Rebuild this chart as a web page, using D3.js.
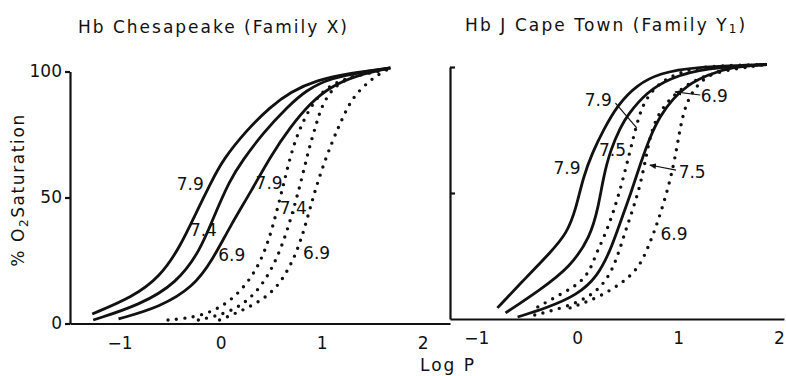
<!DOCTYPE html>
<html>
<head>
<meta charset="utf-8">
<script src="https://cdn.jsdelivr.net/npm/d3@7"></script>
<style>
  body { margin: 0; background: #fff; }
  text { font-family: "DejaVu Sans", sans-serif; fill: #111; }
  .curve { fill: none; stroke: #111; }
  .solid { stroke-width: 2.8; }
  .dots { stroke-width: 3.4; stroke-dasharray: 0 8.5; stroke-linecap: round; }
  .axis path, .axis line { stroke: #111; stroke-width: 2.2; }
  .axis text { font-size: 17px; font-family: "DejaVu Sans", sans-serif; fill: #111; }
  .lbl { font-size: 17px; }
  .ptr { stroke: #111; stroke-width: 1.2; fill: none; }
</style>
</head>
<body>
<svg id="chart" width="786" height="376"></svg>
<script>
// x ticks (log P) and y ticks (% O2 saturation)
const logPTicks = [-1, 0, 1, 2]
const satTicks = [0, 50, 100]
const satTicksRight = [50, 100]

// Hb Chesapeake (Family X): [log P, % saturation]
const chesSolid79 = [[-1.27,3.8],[-0.87,10.5],[-0.60,18.5],[-0.40,30.4],[-0.23,45.0],[-0.10,55.5],[0.02,64.9],[0.26,76.8],[0.49,85.9],[0.69,91.9],[0.95,96.6],[1.28,99.4],[1.68,101.4]]
const chesSolid74 = [[-1.26,1.4],[-0.80,7.3],[-0.43,16.1],[-0.20,29.2],[-0.08,41.1],[0.09,56.9],[0.22,64.9],[0.42,75.6],[0.66,85.9],[0.85,92.7],[1.09,97.4],[1.41,99.8],[1.68,101.4]]
const chesSolid69 = [[-1.01,1.8],[-0.60,6.5],[-0.27,14.5],[-0.08,25.2],[0.09,38.3],[0.31,53.0],[0.49,66.1],[0.69,78.0],[0.89,87.5],[1.08,93.8],[1.35,98.6],[1.68,101.4]]
const chesDots79 = [[-0.52,1.4],[-0.20,2.6],[0.09,8.1],[0.32,18.5],[0.46,30.4],[0.56,45.0],[0.64,58.1],[0.72,70.8],[0.82,80.8],[0.95,89.9],[1.11,95.4],[1.35,98.6],[1.55,99.8],[1.68,101.4]]
const chesDots74 = [[-0.22,1.4],[0.09,4.2],[0.32,10.5],[0.49,20.0],[0.62,31.9],[0.72,45.0],[0.80,56.9],[0.87,68.8],[0.95,79.6],[1.01,87.5],[1.15,95.4],[1.35,98.6],[1.68,101.4]]
const chesDots69 = [[-0.01,1.4],[0.46,9.3],[0.66,20.0],[0.79,31.9],[0.88,45.0],[0.98,58.9],[1.11,72.8],[1.21,81.9],[1.31,89.9],[1.45,95.4],[1.55,98.6],[1.68,101.4]]

// Hb J Cape Town (Family Y1)
const capeSolid79 = [[-0.79,4.4],[-0.50,16.7],[-0.27,26.2],[-0.10,34.0],[-0.01,44.0],[0.06,56.3],[0.15,65.9],[0.26,75.0],[0.40,84.9],[0.59,92.9],[0.82,97.6],[1.15,100],[1.88,101]]
const capeSolid75 = [[-0.71,2.4],[-0.37,11.5],[-0.07,20.6],[0.13,32.5],[0.21,44.4],[0.26,56.3],[0.33,67.1],[0.43,76.2],[0.50,81.0],[0.69,90.1],[0.92,95.6],[1.25,99.6],[1.88,101]]
const capeSolid69 = [[-0.59,0.8],[-0.30,4.4],[0.00,9.5],[0.20,16.7],[0.33,27.4],[0.40,35.3],[0.52,48.4],[0.63,62.0],[0.72,72.0],[0.82,80.5],[0.95,87.5],[1.10,93.0],[1.29,96.8],[1.52,100],[1.88,101]]
const capeDots79 = [[-0.39,4.8],[-0.14,10.3],[0.03,14.3],[0.13,19.4],[0.19,26.2],[0.30,35.3],[0.42,50.0],[0.52,65.9],[0.60,79.0],[0.67,86.9],[0.82,94.0],[1.02,98.0],[1.27,100.4],[1.88,101]]
const capeDots75 = [[-0.42,1.6],[-0.14,4.4],[0.13,8.7],[0.30,15.5],[0.40,24.6],[0.48,35.3],[0.63,52.4],[0.71,71.0],[0.80,82.1],[1.02,91.7],[1.32,98.0],[1.88,101]]
const capeDots69 = [[-0.07,4.4],[0.20,8.3],[0.45,14.3],[0.62,20.6],[0.72,30.2],[0.79,37.3],[0.92,54.0],[0.99,68.3],[1.03,77.8],[1.09,86.9],[1.22,94.8],[1.42,98.8],[1.62,100.4],[1.88,101]]

// pH labels placed in data units
const chesLabels = [["7.9",-0.30,55.4],["7.4",-0.17,37.1],["6.9",0.11,27.2],["7.9",0.48,55.8],["7.4",0.72,45.8],["6.9",0.95,28.0]]
const capeLabels = [["7.9",-0.10,59.9],["7.5",0.35,67.1],["7.9",0.21,86.9],["6.9",1.36,88.5],["7.5",1.14,58.3],["6.9",0.96,33.7]]
const capePointers = [[0.38,85.7,0.59,75.8,false],[1.22,88.9,0.97,90.1,true],[0.98,59.1,0.72,61.1,true]]

const svg = d3.select("#chart")

svg.append("defs").append("marker")
  .attr("id", "head")
  .attr("viewBox", "0 0 10 10")
  .attr("refX", 9).attr("refY", 5)
  .attr("markerWidth", 7).attr("markerHeight", 7)
  .attr("markerUnits", "userSpaceOnUse")
  .attr("orient", "auto")
  .append("path").attr("d", "M0,1L10,5L0,9Z").attr("fill", "#111")

const panels = [
  { x: d3.scaleLinear().domain([-1.49, 2.27]).range([70, 450]),
    y: d3.scaleLinear().domain([0, 100]).range([323.5, 71.5]),
    solids: [chesSolid79, chesSolid74, chesSolid69],
    dots: [chesDots79, chesDots74, chesDots69],
    labels: chesLabels, pointers: [], left: true },
  { x: d3.scaleLinear().domain([-1.26, 2.05]).range([450, 784]),
    y: d3.scaleLinear().domain([0, 100]).range([319, 67]),
    solids: [capeSolid79, capeSolid75, capeSolid69],
    dots: [capeDots79, capeDots75, capeDots69],
    labels: capeLabels, pointers: capePointers, left: false }
]

panels.forEach(p => {
  const line = d3.line()
    .x(d => p.x(d[0]))
    .y(d => p.y(d[1]))
    .curve(d3.curveBasis)

  // x axis
  svg.append("g")
    .attr("class", "axis")
    .attr("transform", "translate(0," + p.y(0) + ")")
    .call(d3.axisBottom(p.x).tickValues(logPTicks).tickFormat(d3.format("d"))
      .tickSize(0).tickSizeOuter(0).tickPadding(13))

  // y axis
  if (p.left) {
    svg.append("g")
      .attr("class", "axis")
      .attr("transform", "translate(" + p.x.range()[0] + ",0)")
      .call(d3.axisLeft(p.y).tickValues(satTicks).tickSize(5).tickSizeOuter(0).tickPadding(3))
  } else {
    svg.append("g")
      .attr("class", "axis")
      .attr("transform", "translate(" + p.x.range()[0] + ",0)")
      .call(d3.axisRight(p.y).tickValues(satTicksRight).tickSize(5).tickSizeOuter(0).tickFormat(""))
  }

  svg.append("g").selectAll("path")
    .data(p.solids)
    .join("path")
    .attr("class", "curve solid")
    .attr("d", line)

  svg.append("g").selectAll("path")
    .data(p.dots)
    .join("path")
    .attr("class", "curve dots")
    .attr("d", line)

  svg.append("g").selectAll("text")
    .data(p.labels)
    .join("text")
    .attr("class", "lbl")
    .attr("x", d => p.x(d[1]))
    .attr("y", d => p.y(d[2]))
    .attr("text-anchor", "middle")
    .attr("dominant-baseline", "central")
    .text(d => d[0])

  svg.append("g").selectAll("line")
    .data(p.pointers)
    .join("line")
    .attr("class", "ptr")
    .attr("x1", d => p.x(d[0])).attr("y1", d => p.y(d[1]))
    .attr("x2", d => p.x(d[2])).attr("y2", d => p.y(d[3]))
    .attr("marker-end", d => d[4] ? "url(#head)" : null)
})

// titles
svg.append("text")
  .attr("x", 78).attr("y", 33)
  .attr("font-size", 17)
  .attr("textLength", 269).attr("lengthAdjust", "spacing")
  .text("Hb Chesapeake (Family X)")

const t2 = svg.append("text")
  .attr("x", 465).attr("y", 31)
  .attr("font-size", 17)
  .attr("letter-spacing", 2.1)
t2.append("tspan").text("Hb J Cape Town (Family Y")
t2.append("tspan").attr("font-size", 12).attr("dy", 2).text("1")
t2.append("tspan").attr("dy", -2).text(")")

// axis titles
const yl = svg.append("text")
  .attr("transform", "translate(24,190) rotate(-90)")
  .attr("text-anchor", "middle")
  .attr("font-size", 17)
  .attr("letter-spacing", 1.6)
yl.append("tspan").text("% O")
yl.append("tspan").attr("font-size", 12).attr("dy", 4).text("2")
yl.append("tspan").attr("dy", -4).text("Saturation")

svg.append("text")
  .attr("x", 448).attr("y", 371)
  .attr("text-anchor", "middle")
  .attr("font-size", 17)
  .attr("letter-spacing", 2)
  .text("Log P")
</script>
</body>
</html>
